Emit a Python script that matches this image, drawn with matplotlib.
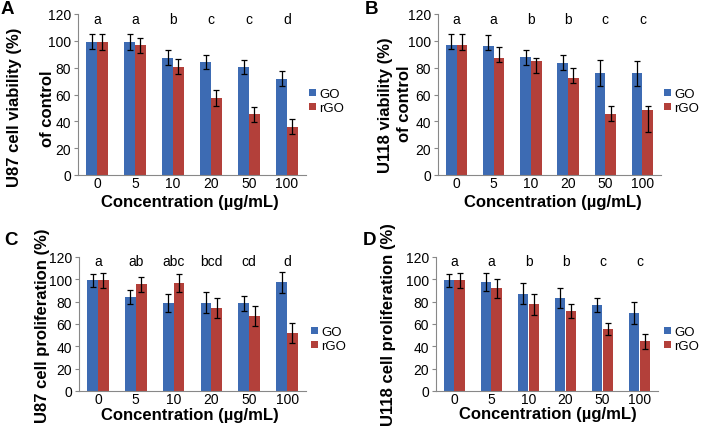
import numpy as np
import matplotlib
matplotlib.use("Agg")
import matplotlib.pyplot as plt

plt.rcParams['font.family'] = ['Liberation Sans', 'DejaVu Sans']

# Data
conc = ["0", "5", "10", "20", "50", "100"]

a_go = [99.4, 99.4, 87.5, 84.0, 80.5, 71.6]
a_rgo = [99.1, 96.6, 80.7, 57.4, 45.2, 36.0]
a_go_err = [5.8, 6.0, 5.6, 5.2, 5.5, 5.6]
a_rgo_err = [6.0, 5.7, 5.7, 6.0, 5.7, 5.6]
a_sig = ["a", "a", "b", "c", "c", "d"]

b_go = [96.7, 96.5, 88.2, 83.2, 76.2, 76.2]
b_rgo = [96.7, 87.2, 84.7, 72.0, 45.5, 48.5]
# asymmetric error bars (lower, upper)
b_go_lo = [2.8, 3.0, 6.5, 5.2, 10.0, 10.0]
b_go_hi = [8.7, 8.2, 5.0, 6.2, 9.5, 9.0]
b_rgo_lo = [3.2, 3.2, 9.0, 3.8, 5.2, 16.5]
b_rgo_hi = [8.2, 8.2, 2.5, 7.8, 6.2, 2.7]
b_sig = ["a", "a", "b", "b", "c", "c"]

c_go = [99.1, 84.2, 79.1, 79.1, 78.5, 97.3]
c_rgo = [99.0, 95.5, 96.4, 74.6, 66.9, 51.6]
c_go_err = [6.0, 6.5, 8.0, 9.5, 7.0, 9.5]
c_rgo_err = [7.0, 6.7, 8.0, 9.0, 9.0, 9.0]
c_sig = ["a", "ab", "abc", "bcd", "cd", "d"]

d_go = [99.1, 97.3, 87.2, 83.0, 77.0, 69.9]
d_rgo = [99.1, 91.9, 77.6, 71.6, 55.8, 44.5]
d_go_err = [6.0, 8.0, 9.2, 9.0, 6.0, 9.5]
d_rgo_err = [6.5, 8.5, 9.2, 6.3, 5.5, 6.7]
d_sig = ["a", "a", "b", "b", "c", "c"]

W, H = 701, 427
fig = plt.figure(figsize=(W / 100, H / 100), dpi=100)

blue = "#3D6BB3"
red = "#B3403A"


def box(l, t, r, b):
    return [l / W, 1 - b / H, (r - l) / W, (b - t) / H]


def panel(rect, go, rgo, go_err, rgo_err, sig, leg_xy):
    ax = fig.add_axes(rect)
    x = np.arange(len(conc))
    w = 0.285
    ax.bar(x - w / 2, go, w, color=blue, label="GO", zorder=2)
    ax.bar(x + w / 2, rgo, w, color=red, label="rGO", zorder=2)
    ax.errorbar(x - w / 2, go, yerr=go_err, fmt="none", ecolor="black",
                elinewidth=0.9, capsize=2, capthick=0.9, zorder=3)
    ax.errorbar(x + w / 2, rgo, yerr=rgo_err, fmt="none", ecolor="black",
                elinewidth=0.9, capsize=2, capthick=0.9, zorder=3)
    for i, s in enumerate(sig):
        ax.text(i, 116, s, ha="center", va="center", fontsize=10)
    ax.set_xlim(-0.5, len(conc) - 0.5)
    ax.set_ylim(0, 120)
    ax.set_yticks(range(0, 121, 20))
    ax.set_xticks(x)
    ax.set_xticklabels(conc)
    ax.tick_params(axis="x", length=0, labelsize=10, pad=1)
    ax.tick_params(axis="y", length=3, color="#888888", labelsize=10, pad=2)
    for sp in ["top", "right"]:
        ax.spines[sp].set_visible(False)
    for sp in ["left", "bottom"]:
        ax.spines[sp].set_color("#888888")
        ax.spines[sp].set_linewidth(0.8)
    ax.legend(loc="center left", bbox_to_anchor=(leg_xy[0] / W, 1 - leg_xy[1] / H),
              bbox_transform=fig.transFigure, frameon=False, fontsize=9.5,
              handlelength=0.5, handleheight=0.5, handletextpad=0.25,
              labelspacing=0.15, borderpad=0, borderaxespad=0)
    return ax


panel(box(78, 15, 306, 176), a_go, a_rgo, a_go_err, a_rgo_err, a_sig, (309, 102))
panel(box(438, 15, 661, 176), b_go, b_rgo, [b_go_lo, b_go_hi], [b_rgo_lo, b_rgo_hi],
      b_sig, (664, 102))
panel(box(79, 258, 306, 392), c_go, c_rgo, c_go_err, c_rgo_err, c_sig, (311, 340))
panel(box(436, 258, 658, 392), d_go, d_rgo, d_go_err, d_rgo_err, d_sig, (664, 340))

lab = dict(fontsize=12, fontweight="bold", ha="center", va="center")
letter = dict(fontsize=13.5, fontweight="bold", ha="center", va="center")


def ftext(x, y, s, **kw):
    fig.text(x / W, 1 - y / H, s, **kw)


# panel letters
ftext(7, 9, "A", **letter)
ftext(371, 9, "B", **letter)
ftext(11, 241, "C", **letter)
ftext(370, 241, "D", **letter)

# x labels
for cx, cy in [(190, 202), (553, 202), (190, 416), (548, 415)]:
    ftext(cx, cy, "Concentration (\u00b5g/mL)", **lab)

# y labels
ftext(15, 107, "U87 cell viability (%)", rotation=90, **lab)
ftext(47, 109, "of control", rotation=90, **lab)
ftext(385, 105, "U118 viability (%)", rotation=90, **lab)
ftext(405, 104, "of control", rotation=90, **lab)
ftext(43, 326, "U87 cell proliferation (%)", rotation=90, **lab)
ftext(388, 325, "U118 cell proliferation (%)", rotation=90, **lab)

fig.savefig("out.png", dpi=100)
